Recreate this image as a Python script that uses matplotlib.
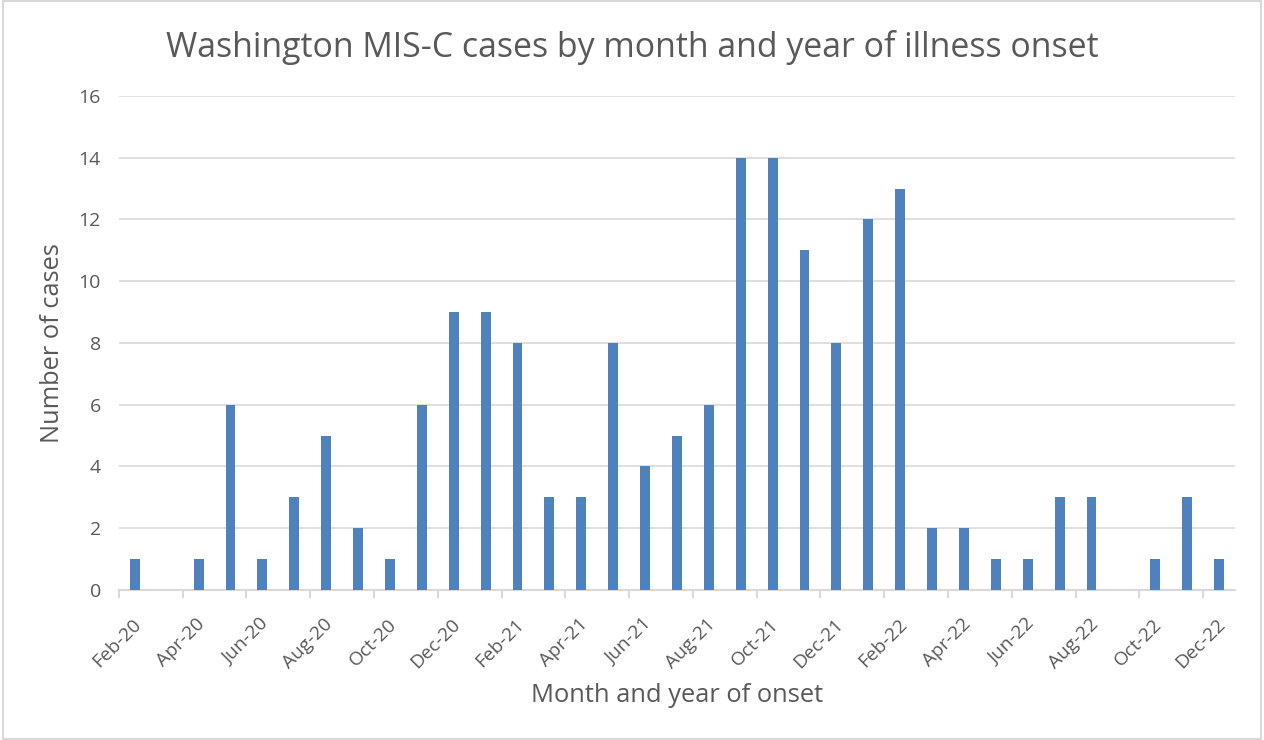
import matplotlib.pyplot as plt
from matplotlib.patches import Rectangle

months = ['Feb-20', 'Mar-20', 'Apr-20', 'May-20', 'Jun-20', 'Jul-20', 'Aug-20', 'Sep-20',
          'Oct-20', 'Nov-20', 'Dec-20', 'Jan-21', 'Feb-21', 'Mar-21', 'Apr-21', 'May-21',
          'Jun-21', 'Jul-21', 'Aug-21', 'Sep-21', 'Oct-21', 'Nov-21', 'Dec-21', 'Jan-22',
          'Feb-22', 'Mar-22', 'Apr-22', 'May-22', 'Jun-22', 'Jul-22', 'Aug-22', 'Sep-22',
          'Oct-22', 'Nov-22', 'Dec-22']
cases = [1, 0, 1, 6, 1, 3, 5, 2, 1, 6, 9, 9, 8, 3, 3, 8, 4, 5, 6, 14, 14, 11, 8, 12,
         13, 2, 2, 1, 1, 3, 3, 0, 1, 3, 1]

grey = '#595959'
plt.rcParams['font.family'] = ['Open Sans', 'DejaVu Sans']

fig = plt.figure(figsize=(12.64, 7.4), dpi=100)
ax = fig.add_axes([0.0941, 0.2027, 0.8829, 0.6676])

# bars sit mid-month, ticks on month boundaries (Excel date axis)
x = [i + 0.5 for i in range(len(months))]
ax.bar(x, cases, width=0.31, color='#4f81bd', zorder=3)

ax.set_xlim(0, len(months))
ax.set_ylim(0, 16)
ax.set_yticks(range(0, 17, 2))
# tick marks on major ticks, rotated labels on minor ticks nudged right
ax.set_xticks(range(0, len(months), 2))
ax.set_xticklabels([])
ax.set_xticks([i + 0.42 for i in range(0, len(months), 2)], minor=True)
ax.set_xticklabels(months[::2], minor=True, rotation=45, ha='right', va='top',
                   rotation_mode='anchor')

ax.grid(axis='y', color='#d9d9d9', linewidth=1.2, zorder=0)
for s in ['top', 'right', 'left']:
    ax.spines[s].set_visible(False)
ax.spines['bottom'].set_color('#d9d9d9')
ax.spines['bottom'].set_linewidth(1.5)
ax.tick_params(axis='y', length=0, pad=13, labelsize=14, labelcolor=grey)
ax.tick_params(axis='x', which='major', length=6, width=1.5, color='#d9d9d9')
ax.tick_params(axis='x', which='minor', length=0, pad=18, labelsize=13.8, labelcolor=grey)

ax.set_xlabel('Month and year of onset', fontsize=18.4, color=grey, va='center')
ax.xaxis.set_label_coords(0.5, -0.2126)
ax.set_ylabel('Number of cases', fontsize=18.3, color=grey, va='center')
ax.yaxis.set_label_coords(-0.0591, 0.5)
fig.text(0.5, 0.936, 'Washington MIS-C cases by month and year of illness onset',
         ha='center', va='center', fontsize=24.4, color=grey)

fig.patches.append(Rectangle((0.002, 0.002), 0.996, 0.996, transform=fig.transFigure,
                             fill=False, edgecolor='#d9d9d9', linewidth=1.5))

fig.savefig('out.png', dpi=100)
